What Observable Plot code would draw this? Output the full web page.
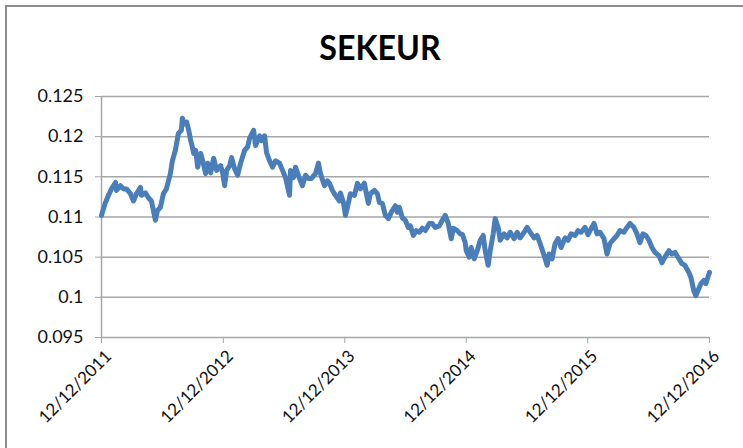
<!DOCTYPE html>
<html>
<head>
<meta charset="utf-8">
<script src="https://cdn.jsdelivr.net/npm/d3@7"></script>
<script src="https://cdn.jsdelivr.net/npm/@observablehq/plot@0.6"></script>
<style>
  html, body { margin: 0; padding: 0; background: #fff; }
  body { width: 743px; height: 448px; overflow: hidden; position: relative; font-family: Lato, "Open Sans", sans-serif; }
  #frame { position: absolute; left: 5px; top: 5px; width: 800px; height: 500px; border: 2px solid #8c8c8c; box-sizing: border-box; }
  #title { position: absolute; left: 8px; top: 0; width: 743px; height: 70px; text-align: center; font-weight: 700; font-size: 35px; line-height: 1; padding-top: 29px; box-sizing: border-box; color: #000; }
  #title span { display: inline-block; transform: scaleX(0.92); }
  #chart { position: absolute; left: 0; top: 70px; }
</style>
</head>
<body>
<div id="frame"></div>
<div id="title"><span>SEKEUR</span></div>
<div id="chart"></div>
<script>
const dates = [
"2011-12-12","2011-12-23","2012-01-02","2012-01-11","2012-01-23","2012-01-26","2012-02-07","2012-02-16","2012-02-25","2012-03-08",
"2012-03-17","2012-03-26","2012-04-07","2012-04-10","2012-04-22","2012-05-01","2012-05-10","2012-05-16","2012-05-22","2012-05-28",
"2012-06-06","2012-06-15","2012-06-24","2012-07-06","2012-07-12","2012-07-21","2012-07-30","2012-08-08","2012-08-11","2012-08-17",
"2012-08-24","2012-08-30","2012-09-05","2012-09-08","2012-09-14","2012-09-20","2012-09-26","2012-10-05","2012-10-11","2012-10-20",
"2012-10-26","2012-11-04","2012-11-13","2012-11-22","2012-12-04","2012-12-10","2012-12-16","2012-12-22","2012-12-31","2013-01-06",
"2013-01-15","2013-01-24","2013-02-02","2013-02-14","2013-02-23","2013-03-01","2013-03-13","2013-03-19","2013-03-31","2013-04-06",
"2013-04-15","2013-04-21","2013-04-30","2013-05-09","2013-05-18","2013-05-30","2013-06-08","2013-06-17","2013-06-29","2013-07-02",
"2013-07-11","2013-07-17","2013-07-29","2013-08-07","2013-08-16","2013-08-25","2013-09-03","2013-09-15","2013-09-24","2013-09-30",
"2013-10-12","2013-10-21","2013-10-27","2013-11-05","2013-11-14","2013-11-26","2013-11-29","2013-12-08","2013-12-14","2013-12-20",
"2013-12-29","2014-01-10","2014-01-19","2014-01-28","2014-02-09","2014-02-15","2014-02-21","2014-02-27","2014-03-11","2014-03-20",
"2014-03-26","2014-04-04","2014-04-13","2014-04-22","2014-05-01","2014-05-13","2014-05-19","2014-05-25","2014-06-03","2014-06-12",
"2014-06-21","2014-06-27","2014-07-06","2014-07-15","2014-07-24","2014-08-02","2014-08-11","2014-08-23","2014-09-01","2014-09-10",
"2014-09-22","2014-10-01","2014-10-10","2014-10-19","2014-10-28","2014-11-03","2014-11-15","2014-11-24","2014-12-01","2014-12-09",
"2014-12-12","2014-12-21","2014-12-27","2015-01-05","2015-01-14","2015-01-23","2015-02-01","2015-02-07","2015-02-16","2015-02-22",
"2015-03-03","2015-03-09","2015-03-18","2015-03-24","2015-04-05","2015-04-14","2015-04-23","2015-05-05","2015-05-14","2015-05-23",
"2015-06-04","2015-06-13","2015-06-22","2015-07-04","2015-07-13","2015-07-22","2015-08-03","2015-08-12","2015-08-18","2015-08-27",
"2015-09-05","2015-09-14","2015-09-23","2015-10-05","2015-10-14","2015-10-23","2015-11-04","2015-11-13","2015-11-22","2015-12-04",
"2015-12-13","2015-12-19","2015-12-31","2016-01-09","2016-01-18","2016-01-30","2016-02-08","2016-02-17","2016-02-29","2016-03-09",
"2016-03-18","2016-03-30","2016-04-08","2016-04-17","2016-04-29","2016-05-08","2016-05-17","2016-05-26","2016-06-04","2016-06-13",
"2016-06-22","2016-07-01","2016-07-13","2016-07-22","2016-07-31","2016-08-12","2016-08-21","2016-08-30","2016-09-11","2016-09-20",
"2016-09-29","2016-10-11","2016-10-17","2016-10-26","2016-11-01","2016-11-10","2016-11-16","2016-11-25","2016-12-01","2016-12-07",
"2016-12-12"
];
const values = [
0.1102,0.1117,0.1127,0.1135,0.1143,0.1133,0.1139,0.1135,0.1135,0.1129,
0.1120,0.1129,0.1137,0.1127,0.1130,0.1124,0.1120,0.1108,0.1096,0.1108,
0.1112,0.1129,0.1135,0.1154,0.1170,0.1183,0.1204,0.1208,0.1223,0.1216,
0.1218,0.1208,0.1195,0.1191,0.1179,0.1183,0.1162,0.1179,0.1170,0.1154,
0.1167,0.1155,0.1173,0.1158,0.1164,0.1155,0.1139,0.1158,0.1164,0.1174,
0.1160,0.1152,0.1167,0.1183,0.1187,0.1198,0.1208,0.1189,0.1201,0.1195,
0.1201,0.1180,0.1170,0.1162,0.1170,0.1167,0.1158,0.1149,0.1127,0.1158,
0.1149,0.1162,0.1148,0.1139,0.1152,0.1148,0.1148,0.1154,0.1167,0.1154,
0.1139,0.1145,0.1142,0.1133,0.1127,0.1120,0.1130,0.1118,0.1102,0.1112,
0.1129,0.1127,0.1142,0.1135,0.1142,0.1129,0.1117,0.1129,0.1133,0.1129,
0.1118,0.1117,0.1102,0.1098,0.1106,0.1114,0.1106,0.1112,0.1099,0.1096,
0.1087,0.1089,0.1077,0.1083,0.1081,0.1086,0.1083,0.1092,0.1092,0.1087,
0.1089,0.1096,0.1102,0.1092,0.1073,0.1086,0.1083,0.1079,0.1078,0.1068,
0.1058,0.1050,0.1062,0.1048,0.1058,0.1071,0.1077,0.1058,0.1040,0.1058,
0.1079,0.1098,0.1087,0.1071,0.1079,0.1074,0.1081,0.1073,0.1081,0.1074,
0.1081,0.1087,0.1081,0.1074,0.1077,0.1067,0.1052,0.1040,0.1054,0.1048,
0.1067,0.1073,0.1062,0.1074,0.1071,0.1079,0.1077,0.1083,0.1081,0.1087,
0.1078,0.1083,0.1092,0.1079,0.1081,0.1073,0.1054,0.1067,0.1073,0.1077,
0.1083,0.1081,0.1087,0.1092,0.1087,0.1079,0.1068,0.1079,0.1077,0.1071,
0.1062,0.1056,0.1052,0.1043,0.1050,0.1058,0.1054,0.1056,0.1048,0.1042,
0.1040,0.1031,0.1025,0.1008,0.1002,0.1011,0.1017,0.1021,0.1017,0.1025,
0.1031
];
const xTickDates = ["2011-12-12","2012-12-12","2013-12-12","2014-12-12","2015-12-12","2016-12-12"];
const xTickLabels = ["12/12/2011","12/12/2012","12/12/2013","12/12/2014","12/12/2015","12/12/2016"];
const yTicks = [0.095, 0.1, 0.105, 0.11, 0.115, 0.12, 0.125];
const yTickLabels = ["0.095","0.1","0.105","0.11","0.115","0.12","0.125"];

const parse = d3.utcParse("%Y-%m-%d");
const data = dates.map((d, i) => ({date: parse(d), value: values[i]}));
const xt = xTickDates.map(parse);

const grid = "#a6a6a6";
const chart = Plot.plot({
  width: 743,
  height: 378,
  marginTop: 26,
  marginBottom: 111,
  marginLeft: 101,
  marginRight: 34,
  style: {fontFamily: "Lato, 'Open Sans', sans-serif", fontSize: "18px", color: "#111", background: "transparent"},
  x: {type: "utc", domain: [xt[0], xt[xt.length - 1]]},
  y: {domain: [0.095, 0.125]},
  marks: [
    Plot.gridY(yTicks, {stroke: grid, strokeOpacity: 1, strokeWidth: 1.5}),
    Plot.axisY(yTicks, {tickFormat: (d, i) => yTickLabels[i], tickSize: 6, tickPadding: 12, stroke: grid, label: null, fontSize: 18}),
    Plot.axisX(xt, {tickFormat: () => "", tickSize: 6, stroke: grid, label: null}),
    Plot.axisX(xt, {tickFormat: (d, i) => xTickLabels[i], tickSize: 0, tickRotate: -45, tickPadding: 16, dx: 7, label: null, fontSize: 17}),
    Plot.ruleX([xt[0]], {stroke: grid, strokeWidth: 1.5}),
    Plot.line(data, {x: "date", y: "value", stroke: "#4a7ebb", strokeWidth: 5, strokeLinejoin: "round", strokeLinecap: "round"})
  ]
});
document.getElementById("chart").appendChild(chart);
</script>
</body>
</html>
